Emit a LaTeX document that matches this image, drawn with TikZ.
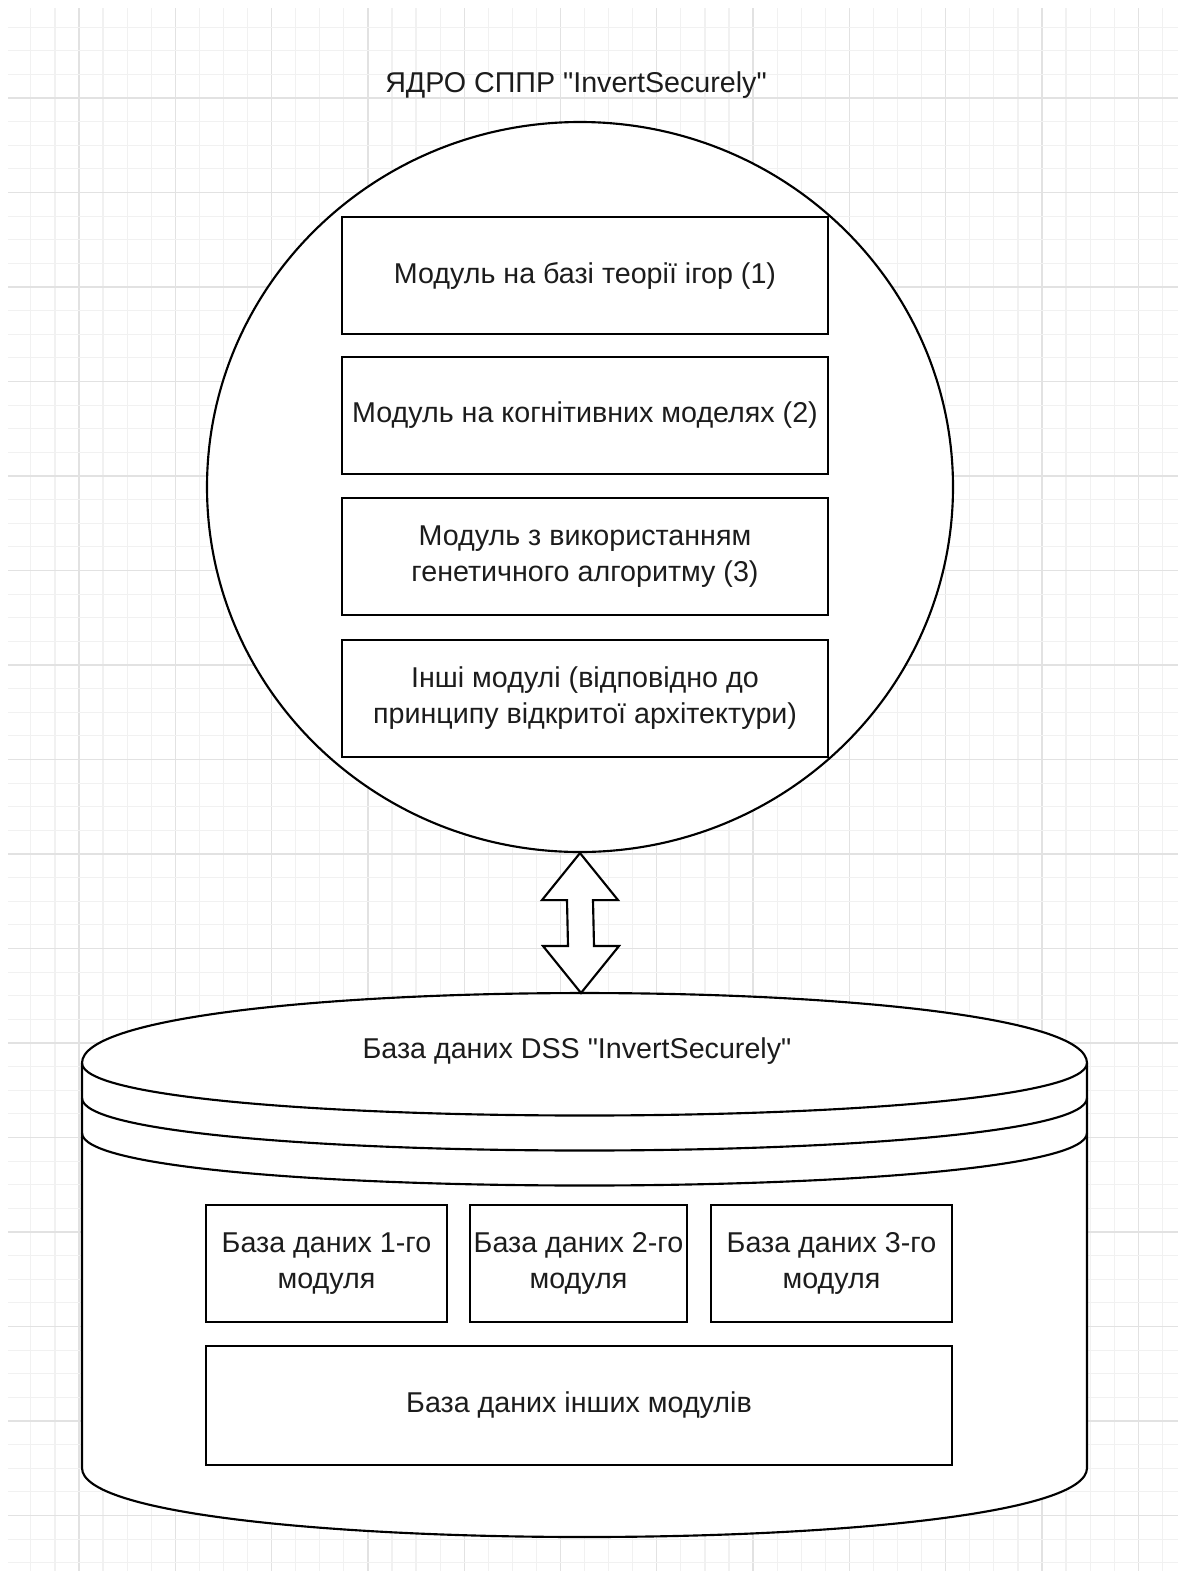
\documentclass[tikz,border=0pt]{standalone}
\usepackage{fontspec}
\setmainfont{Liberation Sans}
% a second face without TeX ligature mapping, for the straight double quote
\newfontfamily\plainqfont{Liberation Sans}[Ligatures=Common]
\usetikzlibrary{calc,shapes.geometric}
\newdimen\pxu
\pxu=0.75pt
\newcommand\straightquote{{\plainqfont\char34\relax}}
\definecolor{gridminor}{HTML}{F1F1F1}
\definecolor{gridmajor}{HTML}{E2E2E2}
\definecolor{inktext}{HTML}{1C1C1C}
\begin{document}
\begin{tikzpicture}[x=0.75pt,y=-0.75pt,
  line width=1.6pt,
  lbl/.style={font=\fontsize{21.5pt}{27pt}\selectfont,text=inktext,align=center},
  modbox/.style={draw,fill=white,inner sep=0pt,minimum width=486\pxu,minimum height=117\pxu,
    font=\fontsize{21.5pt}{27pt}\selectfont,text=inktext,align=center},
  dbbox/.style={draw,fill=white,inner sep=0pt,minimum height=117\pxu,
    font=\fontsize{21.5pt}{27pt}\selectfont,text=inktext,align=center}]
\useasboundingbox (0,0) rectangle (1178,1571);
\fill[white] (0,0) rectangle (1178,1571);

% background grid: minor lines, then every fourth line darker
\foreach \j in {0,...,47}{
  \pgfmathsetmacro\gx{30.85+24.075*\j}
  \pgfmathtruncatemacro\gm{mod(\j,4)}
  \ifnum\gm=2
    \draw[gridmajor,line width=1pt] (\gx,8) -- (\gx,1571);
  \else
    \draw[gridminor,line width=0.9pt] (\gx,8) -- (\gx,1571);
  \fi
}
\foreach \j in {0,...,65}{
  \pgfmathsetmacro\gy{27.125+23.625*\j}
  \pgfmathtruncatemacro\gm{mod(\j,4)}
  \ifnum\gm=3
    \draw[gridmajor,line width=1pt] (8,\gy) -- (1178,\gy);
  \else
    \draw[gridminor,line width=0.9pt] (8,\gy) -- (1178,\gy);
  \fi
}

% core of the decision support system
\node[lbl] (title) at (576,85) {ЯДРО СППР \straightquote InvertSecurely\straightquote};
\node[draw,fill=white,ellipse,inner sep=0pt,minimum width=746\pxu,minimum height=730\pxu] (core) at (580,487) {};
\node[modbox] (m1) at (585,275.5) {Модуль на базі теорії ігор (1)};
\node[modbox] (m2) at (585,415.5) {Модуль на когнітивних моделях (2)};
\node[modbox] (m3) at (585,556.5) {Модуль з використанням\\генетичного алгоритму (3)};
\node[modbox] (m4) at (585,698.5) {Інші модулі (відповідно до\\принципу відкритої архітектури)};

% database cylinder
\coordinate (dbtl) at (82,1063);
\coordinate (dbtr) at (1087,1063);
\coordinate (dbbl) at (82,1468);
\coordinate (dbbr) at (1087,1468);
\coordinate (dbtop) at (581,993);
\draw[fill=white] (dbtl) .. controls (82,969.7) and (1087,969.7) .. (dbtr)
  -- (dbbr) .. controls (1087,1560) and (82,1560) .. (dbbl) -- cycle;
\foreach \o in {0,35,70}{
  \draw ($(dbtl)+(0,\o)$) .. controls ($(dbtl)+(0,\o+70)$) and ($(dbtr)+(0,\o+70)$) .. ($(dbtr)+(0,\o)$);
}
\node[lbl] (dbtitle) at (577,1051) {База даних DSS \straightquote InvertSecurely\straightquote};
\node[dbbox,minimum width=241\pxu] (d1) at (326.5,1263.5) {База даних 1-го\\модуля};
\node[dbbox,minimum width=217\pxu] (d2) at (578.5,1263.5) {База даних 2-го\\модуля};
\node[dbbox,minimum width=241\pxu] (d3) at (831.5,1263.5) {База даних 3-го\\модуля};
\node[dbbox,minimum width=746\pxu,minimum height=119\pxu] (d4) at (579,1405.5) {База даних інших модулів};

% two-way exchange between the core and the database
\draw[fill=white,line join=miter]
  (core.south) -- ($(core.south)+(38,47)$) -- ($(core.south)+(13,47)$)
  -- ($(dbtop)+(13,-47)$) -- ($(dbtop)+(38,-47)$) -- (dbtop)
  -- ($(dbtop)+(-38,-47)$) -- ($(dbtop)+(-13,-47)$)
  -- ($(core.south)+(-13,47)$) -- ($(core.south)+(-38,47)$) -- cycle;
\end{tikzpicture}
\end{document}
